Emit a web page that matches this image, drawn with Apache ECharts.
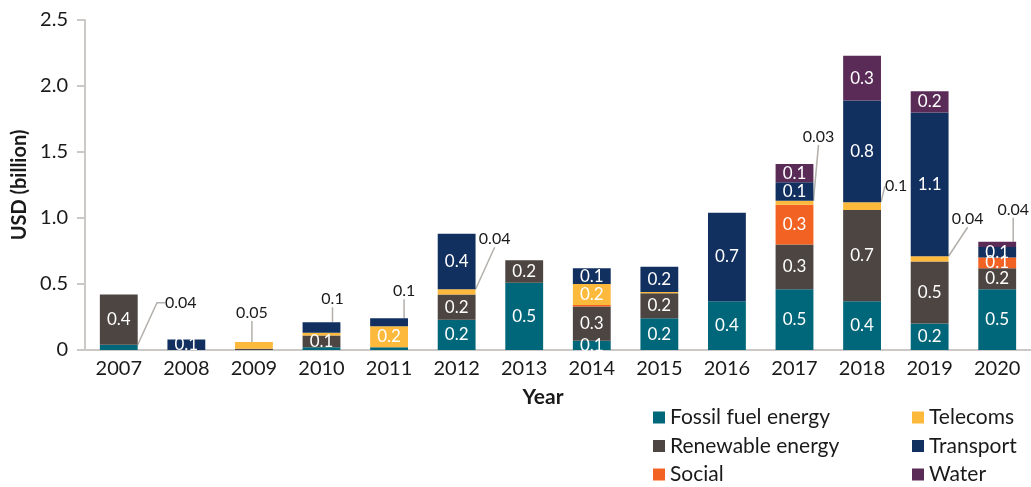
<!DOCTYPE html>
<html><head><meta charset="utf-8">
<script src="https://cdn.jsdelivr.net/npm/echarts@6/dist/echarts.min.js"></script>
<style>html,body{margin:0;padding:0;background:#fff}#c{width:1031px;height:487px}</style>
</head><body><div id="c"></div>
<script>
// ---- data ----
const years = ['2007','2008','2009','2010','2011','2012','2013','2014','2015','2016','2017','2018','2019','2020'];
const fossilFuel = [0.04, 0, 0, 0.02, 0.02, 0.23, 0.51, 0.07, 0.24, 0.37, 0.46, 0.37, 0.20, 0.46];
const renewable  = [0.38, 0, 0.01, 0.09, 0, 0.19, 0.17, 0.26, 0.19, 0, 0.34, 0.69, 0.47, 0.16];
const social     = [0, 0, 0, 0, 0, 0, 0, 0.01, 0, 0, 0.30, 0, 0, 0.08];
const telecoms   = [0, 0, 0.05, 0.02, 0.16, 0.04, 0, 0.16, 0.01, 0, 0.03, 0.06, 0.04, 0];
const transport  = [0, 0.08, 0, 0.08, 0.06, 0.42, 0, 0.12, 0.19, 0.67, 0.14, 0.77, 1.09, 0.08];
const water      = [0, 0, 0, 0, 0, 0, 0, 0, 0, 0, 0.14, 0.34, 0.16, 0.04];
const seriesNames = ['Fossil fuel energy','Renewable energy','Social','Telecoms','Transport','Water'];
const seriesValues = [fossilFuel, renewable, social, telecoms, transport, water];
const yTickValues = [0, 0.5, 1.0, 1.5, 2.0, 2.5];

// ---- styling / layout ----
const colors = ['#00677a','#4c4541','#f26323','#fcb93b','#11305f','#5b2b58'];
// callout labels: key -> [dx from bar centre, dy from segment top, horizontal leader length]
const callouts = {
  'Fossil fuel energy|2007': [62, -42, 8],
  'Telecoms|2009': [-2, -29, 0],
  'Transport|2010': [11, -23, 0],
  'Transport|2011': [15, -27, 0],
  'Telecoms|2012': [38, -50, 0],
  'Telecoms|2017': [24, -64, 0],
  'Telecoms|2018': [34, -16, 0],
  'Telecoms|2019': [38, -37, 0],
  'Water|2020': [16, -32, 0]
};
const FONT = 'Lato';
const textColor = '#1a1a1a';
const axisColor = '#cbc8c5';

const series = seriesNames.map((name, si) => ({
  name: name,
  type: 'bar',
  stack: 'total',
  barWidth: '56%',
  itemStyle: { color: colors[si] },
  label: {
    show: false, position: 'inside', color: '#ffffff', fontSize: 17, fontFamily: FONT,
    formatter: function (p) {
      const v = p.value;
      if (callouts[name + '|' + years[p.dataIndex]]) return v < 0.055 ? v.toFixed(2) : v.toFixed(1);
      return v.toFixed(1);
    }
  },
  labelLayout: function (params) {
    const co = callouts[name + '|' + years[params.dataIndex]];
    if (!co) return {};
    return {
      x: params.rect.x + params.rect.width / 2 + co[0],
      y: params.rect.y + co[1],
      align: 'center', verticalAlign: 'middle'
    };
  },
  data: seriesValues[si].map((v, i) => {
    const co = callouts[name + '|' + years[i]];
    if (co) {
      return {
        value: v,
        label: { show: true, color: textColor, fontSize: 16, fontFamily: FONT },
        labelLine: { show: true, length2: co[2], lineStyle: { color: '#b3afab', width: 1.5 } }
      };
    }
    return { value: v, label: { show: v >= 0.06 } };
  })
}));

const legendCommon = {
  orient: 'vertical', top: 407, height: 90, padding: 0,
  icon: 'rect', itemWidth: 12, itemHeight: 12, itemGap: 7.5,
  textStyle: { fontSize: 21, lineHeight: 21, color: textColor, fontFamily: FONT }
};

const chart = echarts.init(document.getElementById('c'), null, { renderer: 'canvas' });
chart.setOption({
  animation: false,
  backgroundColor: '#ffffff',
  textStyle: { fontFamily: FONT },
  grid: { left: 85, right: -6, top: 20, bottom: 137, containLabel: false },
  xAxis: {
    type: 'category',
    data: years,
    name: 'Year',
    nameLocation: 'middle',
    nameGap: 37,
    nameTextStyle: { fontSize: 21, fontWeight: 'bold', color: textColor, fontFamily: FONT, padding: [0, 30, 0, 0] },
    axisLine: { show: true, lineStyle: { color: axisColor, width: 2 } },
    axisTick: { show: false },
    axisLabel: { fontSize: 20, color: textColor, fontFamily: FONT, margin: 9 }
  },
  yAxis: {
    type: 'value',
    min: yTickValues[0],
    max: yTickValues[yTickValues.length - 1],
    interval: yTickValues[1] - yTickValues[0],
    name: 'USD (billion)',
    nameLocation: 'middle',
    nameGap: 48,
    nameTextStyle: { fontSize: 20, fontWeight: 'bold', color: textColor, fontFamily: FONT },
    axisLine: { show: true, lineStyle: { color: axisColor, width: 2 } },
    axisTick: { show: true, length: 8, lineStyle: { color: axisColor, width: 2 } },
    splitLine: { show: false },
    axisLabel: {
      fontSize: 20, color: textColor, fontFamily: FONT, margin: 17,
      formatter: v => (v === 0 ? '0' : v.toFixed(1))
    }
  },
  legend: [
    Object.assign({ data: ['Fossil fuel energy', 'Renewable energy', 'Social'], left: 653 }, legendCommon),
    Object.assign({ data: ['Telecoms', 'Transport', 'Water'], left: 912 }, legendCommon)
  ],
  series: series
});
</script></body></html>
